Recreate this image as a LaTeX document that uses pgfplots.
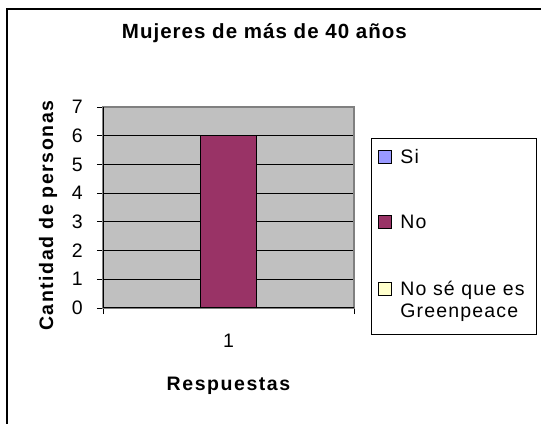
\documentclass[border=0pt]{standalone}
\usepackage{fontspec}
\setmainfont{Liberation Sans}
\newfontfamily\sptitle[LetterSpace=5]{Liberation Sans}
\newfontfamily\splabel[LetterSpace=8]{Liberation Sans}
\newfontfamily\splegend[LetterSpace=6]{Liberation Sans}
\usepackage{pgfplots}
\pgfplotsset{compat=1.18}
\definecolor{xlplot}{HTML}{C0C0C0}
\definecolor{xlframe}{HTML}{808080}
\definecolor{xlsi}{HTML}{9999FF}
\definecolor{xlno}{HTML}{993366}
\definecolor{xlns}{HTML}{FFFFCC}
\pgfplotsset{
  sq legend/.style={legend image code/.code={%
    \draw[##1,draw=black,line width=0.9bp] (0bp,0bp) rectangle (13bp,13bp);}}
}
\newcommand{\tickfont}{\fontsize{19.5bp}{22bp}\selectfont}
\begin{document}
\begin{tikzpicture}
\path[use as bounding box] (0,0) rectangle (541bp,424bp);
\fill[white] (0,0) rectangle (541bp,424bp);
\draw[line width=2bp] (7bp,-5bp) -- (7bp,415bp) -- (546bp,415bp);
\begin{axis}[
  at={(103bp,116bp)}, anchor=south west,
  scale only axis, width=251bp, height=201bp,
  xmin=0.5, xmax=1.5, ymin=0, ymax=7,
  /pgf/number format/assume math mode=true,
  axis background/.style={fill=xlplot},
  axis line style={xlframe, line width=1.5bp},
  ytick={0,1,...,7},
  ytick pos=left, xtick pos=bottom,
  ymajorgrids=true,
  major grid style={black, line width=0.8bp},
  tick align=outside,
  major tick length=6bp,
  tick style={black, line width=0.8bp},
  yticklabel style={font=\tickfont, anchor=east, inner sep=0pt, xshift=-14bp},
  xtick={0.5,1.5}, xticklabels={},
  extra x ticks={1}, extra x tick labels={1},
  extra x tick style={major tick length=0pt, xmajorgrids=false,
    xticklabel style={font=\tickfont, anchor=base, inner sep=0pt, yshift=-39bp}},
  title={\sptitle\bfseries\fontsize{20.5bp}{24bp}\selectfont Mujeres de más de 40 años},
  title style={at={(axis description cs:0.643,1.3134)}, anchor=base, inner sep=0pt},
  xlabel={\splabel\bfseries\fontsize{19.5bp}{23bp}\selectfont Respuestas},
  xlabel style={at={(axis description cs:0.5,-0.408)}, anchor=base, inner sep=0pt},
  ylabel={\splabel\bfseries\fontsize{19.5bp}{23bp}\selectfont Cantidad de personas},
  ylabel style={at={(axis description cs:-0.199,0.46)}, anchor=base, rotate=0, inner sep=0pt},
  legend style={at={(axis description cs:1.0677,0.8458)}, anchor=north west,
    draw=black, line width=0.9bp, fill=white,
    font=\splegend\fontsize{19.5bp}{22bp}\selectfont,
    nodes={inner sep=0pt}, cells={anchor=base west},
    column sep=8bp, row sep=50bp, inner xsep=7bp, inner ysep=11bp},
]
\addlegendimage{sq legend, fill=xlsi}
\addlegendentry{Si}
\addplot[ybar, bar width=56bp, fill=xlno, draw=black, line width=0.9bp, sq legend]
  coordinates {(1,6)};
\addlegendentry{No}
\addlegendimage{sq legend, fill=xlns}
\addlegendentry[text depth=28bp]{\begin{tabular}[t]{@{}l@{\hspace{5bp}}}No sé que es\\Greenpeace\end{tabular}}
\draw[black, line width=1.5bp] (rel axis cs:0,1) -- (rel axis cs:0,0) -- (rel axis cs:1,0);
\end{axis}
\end{tikzpicture}
\end{document}
